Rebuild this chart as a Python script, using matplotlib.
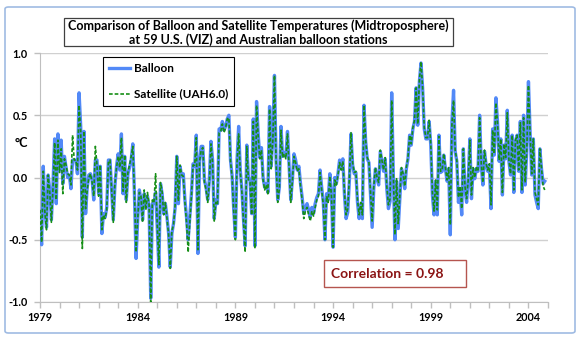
import numpy as np
import matplotlib
matplotlib.use('Agg')
from matplotlib import pyplot as plt
from matplotlib.patches import Rectangle, FancyBboxPatch

# monthly anomalies (deg C), Jan 1979 onward
balloon = [
    -0.42, -0.54, 0.09, -0.25, -0.40, 0.02, -0.10, -0.34, -0.05, 0.31, -0.21, 0.35,   # 1979
    0.06, 0.30, -0.05, 0.17, 0.08, 0.00, 0.02, -0.09, 0.14, 0.14, 0.14, 0.03,         # 1980
    0.68, 0.41, -0.48, 0.37, -0.29, -0.08, 0.02, 0.03, -0.02, -0.18, 0.14, 0.14,      # 1981
    -0.13, 0.09, -0.45, -0.29, -0.32, -0.24, 0.14, 0.14, -0.10, -0.34, -0.07, 0.09,   # 1982
    0.19, 0.06, 0.35, -0.13, 0.17, -0.18, 0.03, 0.08, 0.14, 0.27, -0.13, -0.65,       # 1983
    -0.34, -0.10, -0.18, -0.34, -0.13, -0.24, -0.15, -0.24, -0.97, -0.21, -0.21, -0.12,  # 1984
    -0.40, -0.72, -0.05, -0.13, -0.29, -0.21, -0.32, -0.45, -0.72, -0.45, -0.37, -0.24,  # 1985
    0.17, -0.21, 0.09, 0.01, 0.03, -0.18, -0.32, -0.50, -0.32, -0.13, 0.11, 0.09,     # 1986
    0.34, -0.61, 0.14, 0.25, 0.25, -0.02, -0.08, -0.18, -0.02, 0.29, 0.14, -0.33,     # 1987
    -0.18, -0.21, 0.39, 0.38, 0.45, 0.38, 0.41, 0.47, 0.50, 0.14, 0.01, -0.26,        # 1988
    -0.48, 0.14, 0.41, 0.06, -0.10, -0.34, -0.55, 0.26, 0.00, -0.02, -0.29, 0.47,     # 1989
    -0.55, 0.61, 0.35, 0.16, 0.24, 0.00, -0.08, -0.05, -0.12, 0.57, 0.09, 0.33,       # 1990
    0.82, 0.14, -0.18, -0.08, 0.41, 0.17, 0.20, 0.17, 0.37, 0.09, -0.18, -0.02,       # 1991
    0.19, 0.14, 0.06, 0.09, -0.05, -0.16, -0.29, -0.24, -0.21, -0.26, -0.32, -0.24,   # 1992
    -0.29, -0.21, -0.16, -0.13, 0.06, -0.08, -0.20, -0.50, -0.13, -0.18, 0.03, -0.13, # 1993
    -0.56, 0.00, -0.05, 0.03, 0.14, 0.07, 0.15, -0.14, -0.33, -0.28, -0.03, 0.35,     # 1994
    0.10, 0.03, 0.04, -0.20, -0.33, -0.22, -0.33, 0.58, 0.29, 0.15, 0.12, -0.14,      # 1995
    -0.40, -0.09, 0.07, -0.01, -0.06, 0.21, 0.13, 0.05, 0.15, -0.09, -0.25, -0.19,    # 1996
    0.68, 0.02, -0.50, -0.03, -0.41, -0.17, 0.07, 0.02, -0.09, 0.07, 0.15, 0.34,      # 1997
    0.26, 0.39, 0.45, 0.72, 0.42, 0.77, 0.92, 0.72, 0.39, 0.31, 0.31, 0.45,           # 1998
    0.26, -0.14, -0.30, -0.03, -0.30, 0.34, 0.04, 0.05, 0.18, 0.07, -0.03, 0.07,      # 1999
    -0.46, 0.45, 0.70, 0.21, 0.13, -0.20, -0.09, -0.30, 0.23, -0.09, -0.20, -0.03,    # 2000
    0.31, -0.17, 0.07, -0.01, 0.07, 0.05, 0.50, 0.10, -0.06, 0.21, 0.10, 0.05,        # 2001
    0.10, -0.25, 0.39, 0.18, 0.64, 0.45, 0.13, 0.31, -0.14, 0.26, 0.15, 0.54,         # 2002
    0.13, 0.02, 0.34, -0.12, 0.29, 0.34, 0.05, 0.45, -0.12, 0.50, -0.06, 0.23,        # 2003
    0.77, 0.37, 0.02, 0.31, -0.14, -0.20, -0.25, 0.23, 0.07, -0.05, -0.03,            # 2004
]

satellite = [
    -0.26, -0.52, 0.05, -0.28, -0.42, 0.02, -0.12, -0.36, -0.08, 0.28, -0.18, 0.30,
    0.04, 0.23, -0.13, 0.15, 0.10, 0.03, 0.02, -0.06, 0.34, 0.14, 0.14, 0.06,
    0.58, 0.37, -0.57, 0.37, -0.25, -0.10, 0.00, 0.03, -0.04, -0.15, 0.25, 0.10,
    -0.15, 0.10, -0.42, -0.30, -0.33, -0.26, 0.12, 0.14, -0.10, -0.36, -0.05, 0.08,
    0.17, 0.08, 0.32, -0.11, 0.18, -0.20, 0.04, 0.10, 0.17, 0.25, -0.12, -0.60,
    -0.34, -0.12, -0.15, -0.36, -0.10, -0.26, -0.12, -0.22, -1.00, -0.18, -0.20, 0.03,
    -0.38, -0.70, -0.04, -0.11, -0.30, -0.20, -0.33, -0.46, -0.73, -0.43, -0.38, -0.22,
    0.17, -0.19, 0.10, 0.02, 0.01, -0.20, -0.36, -0.60, -0.36, -0.15, 0.10, 0.10,
    0.32, -0.58, 0.13, 0.22, 0.24, -0.04, -0.10, -0.20, -0.04, 0.27, 0.12, -0.35,
    -0.20, -0.22, 0.36, 0.37, 0.43, 0.36, 0.40, 0.47, 0.48, 0.13, 0.00, -0.28,
    -0.50, 0.12, 0.35, 0.05, -0.12, -0.36, -0.60, 0.25, -0.02, -0.04, -0.30, 0.45,
    -0.57, 0.58, 0.33, 0.15, 0.22, -0.02, -0.10, -0.06, -0.14, 0.55, 0.07, 0.30,
    0.82, 0.12, -0.20, -0.09, 0.38, 0.16, 0.19, 0.15, 0.35, 0.07, -0.20, -0.03,
    0.17, 0.12, 0.05, 0.07, -0.07, -0.18, -0.33, -0.27, -0.24, -0.30, -0.35, -0.27,
    -0.31, -0.24, -0.18, -0.15, 0.04, -0.10, -0.22, -0.50, -0.15, -0.20, 0.01, -0.15,
    -0.56, -0.02, -0.06, 0.02, 0.12, 0.06, 0.13, -0.12, -0.30, -0.25, -0.01, 0.36,
    0.12, 0.04, 0.05, -0.18, -0.30, -0.20, -0.30, 0.58, 0.30, 0.16, 0.13, -0.12,
    -0.35, -0.07, 0.08, 0.00, -0.04, 0.22, 0.14, 0.06, 0.16, -0.07, -0.22, -0.17,
    0.62, 0.03, -0.46, -0.01, -0.37, -0.15, 0.08, 0.03, -0.07, 0.08, 0.16, 0.34,
    0.27, 0.40, 0.46, 0.72, 0.43, 0.78, 0.93, 0.72, 0.40, 0.32, 0.32, 0.46,
    0.27, -0.12, -0.27, -0.02, -0.26, 0.33, 0.05, 0.06, 0.19, 0.08, -0.02, 0.08,
    -0.38, 0.43, 0.62, 0.22, 0.14, -0.16, -0.07, -0.25, 0.23, -0.07, -0.17, -0.02,
    0.30, -0.14, 0.08, 0.00, 0.08, 0.06, 0.48, 0.11, -0.04, 0.22, 0.11, 0.06,
    0.11, -0.22, 0.38, 0.19, 0.60, 0.44, 0.14, 0.31, -0.12, 0.27, 0.16, 0.52,
    0.14, 0.03, 0.34, -0.10, 0.30, 0.34, 0.06, 0.44, -0.10, 0.48, -0.04, 0.23,
    0.74, 0.36, 0.03, 0.31, -0.12, -0.17, -0.22, 0.23, 0.08, -0.07, -0.10,
]

start_year = 1979
label_years = [1979, 1984, 1989, 1994, 1999, 2004]
y_ticks = [-1.0, -0.5, 0.0, 0.5, 1.0]

t = start_year + np.arange(len(balloon)) / 12.0

plt.rcParams['font.family'] = ['Lato', 'DejaVu Sans']
plt.rcParams['font.weight'] = 'bold'

fig = plt.figure(figsize=(5.85, 3.41), dpi=100)
W, H = 585, 341

# outer chart border
fig.patches.append(FancyBboxPatch((5/W, 1-333/H), 570/W, 326/H,
                                  boxstyle='round,pad=0,rounding_size=0.006',
                                  transform=fig.transFigure, fill=False,
                                  edgecolor='#9fbbe3', linewidth=1.2))

ax = fig.add_axes([40/W, 1-302/H, 508/W, 249/H])
ax.plot(t, balloon, color='#5289f7', lw=2.4, label='Balloon', zorder=3)
ax.plot(t, satellite, color='#168f16', lw=1.2, ls=(0, (2.2, 1.2)),
        label='Satellite (UAH6.0)', zorder=4)

ax.set_xlim(start_year, 2005)
ax.set_ylim(-1.0, 1.0)
ax.set_yticks(y_ticks)
ax.set_yticklabels(['%.1f' % v for v in y_ticks])
ax.set_xticks(np.arange(start_year, 2006, 1))
ax.set_xticklabels([str(y) if y in label_years else '' for y in range(start_year, 2006)])
ax.grid(axis='y', color='#d0d0d0', lw=1.0)
ax.set_axisbelow(True)
for s in ['top', 'right']:
    ax.spines[s].set_visible(False)
for s in ['left', 'bottom']:
    ax.spines[s].set_color('#bfbfbf')
ax.tick_params(axis='both', colors='#bfbfbf', labelcolor='black',
               labelsize=7.8, length=4, width=1)
ax.tick_params(axis='x', pad=3)
ax.tick_params(axis='y', pad=5)
for lab in ax.get_xticklabels() + ax.get_yticklabels():
    lab.set_fontweight('bold')

fig.text(21/W, 1-143/H, '°C', ha='center', va='center', fontsize=9, fontweight='bold')

leg = ax.legend(loc='upper left', bbox_to_anchor=(0.124, 0.984), borderaxespad=0,
                fancybox=False, edgecolor='black', framealpha=1, handlelength=1.8,
                handletextpad=0.3, labelspacing=1.25, borderpad=0.5,
                prop={'weight': 'bold', 'size': 8.5})
leg.get_frame().set_linewidth(0.8)

# title box
fig.patches.append(Rectangle((64/W, 1-46/H), 389/W, 28/H, transform=fig.transFigure,
                             facecolor='white', edgecolor='#404040', lw=0.9))
fig.text(258.5/W, 1-32.5/H,
         'Comparison of Balloon and Satellite Temperatures (Midtroposphere)\n'
         'at 59 U.S. (VIZ) and Australian balloon stations',
         ha='center', va='center', fontsize=9.0, fontweight='bold', linespacing=1.1)

# correlation box
fig.patches.append(Rectangle((324/W, 1-287/H), 142/W, 27/H, transform=fig.transFigure,
                             facecolor='white', edgecolor='#b5554f', lw=1.0, zorder=5))
fig.text(387/W, 1-273.5/H, 'Correlation = 0.98', ha='center', va='center',
         fontsize=10, fontweight='bold', color='#8b1414', zorder=6)

plt.savefig('out.png', dpi=100)
